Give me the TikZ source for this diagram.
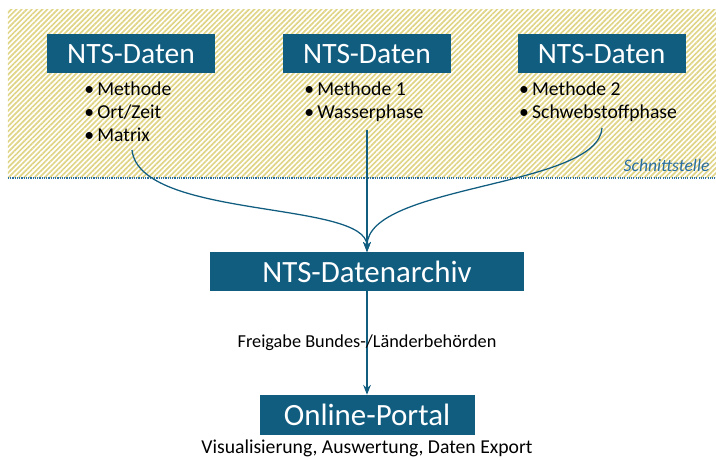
\documentclass[tikz,border=0pt]{standalone}
\usepackage{fontspec}
\setmainfont{Carlito}
\usetikzlibrary{patterns.meta,arrows.meta}

\definecolor{ntsblue}{RGB}{17,93,128}
\definecolor{hatch}{RGB}{224,213,135}
\definecolor{linkblue}{RGB}{40,110,160}

\begin{document}
\begin{tikzpicture}[
    databox/.style={fill=ntsblue, text=white, inner sep=0pt, minimum width=4.2cm, minimum height=0.975cm, font=\fontsize{21}{25}\selectfont},
    itemlist/.style={align=left, inner sep=0pt, anchor=north west, font=\fontsize{14}{16.2}\selectfont},
    flow/.style={draw=ntsblue, line width=0.9pt, -{Stealth[length=7pt,width=5.5pt]}}
  ]
    \useasboundingbox (0,0) rectangle (17.9,11.5);

    % Schnittstelle (schraffierter Bereich)
    \fill[pattern={Lines[angle=45,distance=2.6pt,line width=1.2pt]}, pattern color=hatch] (0.2,7.05) rectangle (17.9,11.25);
    \draw[linkblue, line width=0.8pt, dash pattern=on 0.8pt off 0.8pt] (0.2,7.05) -- (17.9,7.05);
    \node[anchor=base east, text=linkblue, font=\fontsize{12.5}{15}\selectfont\itshape] (iface) at (17.86,7.2) {Schnittstelle};

    % Datenquellen
    \node[databox] (src1) at (3.275,10.16) {NTS-Daten};
    \node[databox] (src2) at (9.175,10.16) {NTS-Daten};
    \node[databox] (src3) at (15.04,10.16) {NTS-Daten};

    \node[itemlist] (list1) at (2.1,9.45) {•\,Methode\\•\,Ort/Zeit\\•\,Matrix};
    \node[itemlist] (list2) at (7.6,9.45) {•\,Methode 1\\•\,Wasserphase};
    \node[itemlist] (list3) at (12.97,9.45) {•\,Methode 2\\•\,Schwebstoffphase};

    % Archiv und Portal
    \node[databox, minimum width=7.85cm, font=\fontsize{22}{26}\selectfont] (arch) at (9.175,4.71) {NTS-Datenarchiv};
    \node[databox, minimum width=5.375cm, minimum height=1cm, font=\fontsize{22}{26}\selectfont] (portal) at (9.175,1.125) {Online-Portal};
    \node[anchor=base, font=\fontsize{14}{16}\selectfont] (usage) at (9.175,0.16) {Visualisierung, Auswertung, Daten Export};

    % Verbindungen
    \coordinate (c1) at (3.3,7.75);
    \coordinate (c2) at (9.175,8.25);
    \coordinate (c3) at (15.05,8.3);
    \draw[flow] (c1) .. controls (3.5,6.0) and (9.175,6.5) .. (arch.north);
    \draw[flow] (c2) -- (arch.north);
    \draw[flow] (c3) .. controls (14.95,6.8) and (9.175,6.9) .. (arch.north);
    \draw[flow] (arch) -- node[font=\fontsize{13}{15}\selectfont] {Freigabe Bundes-/Länderbehörden} (portal);
  \end{tikzpicture}
\end{document}
